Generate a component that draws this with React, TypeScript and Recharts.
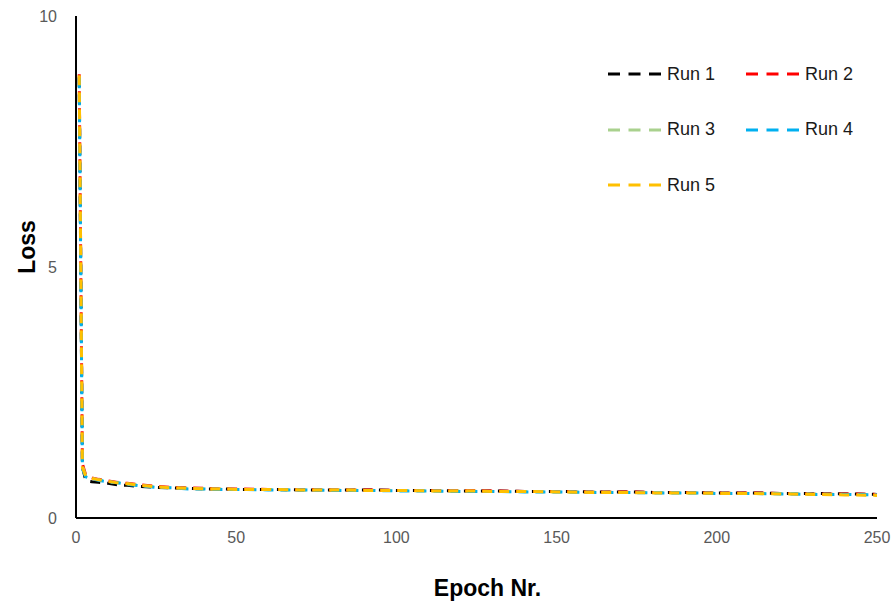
import React from "react";
import { LineChart, Line, XAxis, YAxis, Label } from "recharts";

// Training loss per epoch for five runs
const epochs = [1, 2, 3, 4, 5, 7, 10, 13, 16, 20, 25, 30, 35, 40, 45, 50, 60, 70, 80, 90, 100, 110, 120, 130, 140, 150, 160, 170, 180, 190, 200, 210, 220, 230, 240, 250];

const run1 = [8.78, 1.02, 0.76, 0.73, 0.72, 0.71, 0.69, 0.66, 0.65, 0.63, 0.61, 0.6, 0.59, 0.58, 0.58, 0.57, 0.57, 0.56, 0.56, 0.56, 0.55, 0.55, 0.54, 0.54, 0.53, 0.53, 0.52, 0.52, 0.51, 0.51, 0.5, 0.5, 0.49, 0.49, 0.48, 0.47];
const run2 = [8.84, 1.08, 0.86, 0.82, 0.8, 0.77, 0.74, 0.71, 0.69, 0.66, 0.63, 0.61, 0.6, 0.59, 0.58, 0.58, 0.57, 0.57, 0.56, 0.56, 0.55, 0.55, 0.55, 0.54, 0.53, 0.53, 0.52, 0.52, 0.51, 0.51, 0.5, 0.5, 0.49, 0.48, 0.48, 0.47];
const run3 = [8.8, 1.04, 0.84, 0.81, 0.79, 0.76, 0.73, 0.7, 0.68, 0.65, 0.62, 0.6, 0.59, 0.58, 0.58, 0.57, 0.57, 0.56, 0.56, 0.55, 0.55, 0.54, 0.54, 0.53, 0.53, 0.52, 0.52, 0.51, 0.51, 0.5, 0.5, 0.49, 0.49, 0.48, 0.47, 0.46];
const run4 = [8.76, 0.98, 0.82, 0.8, 0.78, 0.75, 0.72, 0.7, 0.67, 0.64, 0.61, 0.6, 0.58, 0.58, 0.57, 0.57, 0.56, 0.56, 0.55, 0.55, 0.54, 0.54, 0.53, 0.53, 0.52, 0.52, 0.51, 0.51, 0.5, 0.5, 0.49, 0.49, 0.48, 0.47, 0.47, 0.46];
const run5 = [8.82, 1.01, 0.84, 0.81, 0.79, 0.76, 0.73, 0.7, 0.68, 0.65, 0.62, 0.6, 0.59, 0.58, 0.58, 0.57, 0.57, 0.56, 0.56, 0.55, 0.55, 0.54, 0.54, 0.53, 0.53, 0.52, 0.51, 0.51, 0.5, 0.5, 0.49, 0.49, 0.48, 0.47, 0.46, 0.45];

const xTicks = [0, 50, 100, 150, 200, 250];
const yTicks = [0, 5, 10];

const seriesNames = ["Run 1", "Run 2", "Run 3", "Run 4", "Run 5"];
const seriesKeys = ["run1", "run2", "run3", "run4", "run5"];
const seriesColors = ["#000000", "#FF0000", "#A9D18E", "#00B0F0", "#FFC000"];

const allRuns = [run1, run2, run3, run4, run5];
const data = epochs.map((epoch, i) => {
  const row: Record<string, number> = { epoch };
  seriesKeys.forEach((k, s) => {
    row[k] = allRuns[s][i];
  });
  return row;
});

const FONT = "Liberation Sans, Arial, sans-serif";
const tickStyle = { fill: "#595959", fontSize: 16, fontFamily: FONT };
const titleStyle = { fontSize: 23, fontWeight: "bold", fill: "#000", fontFamily: FONT };

// Vertical axis title, a little above the middle of the plot
function LossTitle(props: any) {
  const vb = props.viewBox || { x: 0, y: 0, width: 0, height: 0 };
  const cx = vb.x + 11;
  const cy = vb.y + vb.height / 2 - 20;
  return (
    <text
      x={cx}
      y={cy}
      transform={`rotate(-90 ${cx} ${cy})`}
      textAnchor="middle"
      dominantBaseline="central"
      style={titleStyle}
    >
      Loss
    </text>
  );
}

// Horizontal axis title, slightly right of the plot's centre
function EpochTitle(props: any) {
  const vb = props.viewBox || { x: 0, y: 0, width: 0, height: 0 };
  const cx = vb.x + vb.width / 2 + 11;
  const cy = vb.y + vb.height - 16;
  return (
    <text x={cx} y={cy} textAnchor="middle" dominantBaseline="central" style={titleStyle}>
      Epoch Nr.
    </text>
  );
}

// Two-column legend placed in the upper right of the plot area
function LegendGrid() {
  return (
    <div style={{ position: "absolute", left: 608, top: 63, width: 280, height: 140, fontFamily: FONT }}>
      {seriesNames.map((name, i) => {
        const col = i % 2;
        const row = Math.floor(i / 2);
        return (
          <div
            key={name}
            style={{ position: "absolute", left: col * 138, top: row * 55.5, display: "flex", alignItems: "center", height: 22 }}
          >
            <svg width={53} height={6} style={{ display: "block" }}>
              <line x1={0} y1={3} x2={53} y2={3} stroke={seriesColors[i]} strokeWidth={3} strokeDasharray="12 8.5" />
            </svg>
            <span style={{ marginLeft: 6, fontSize: 18, color: "#1a1a1a" }}>{name}</span>
          </div>
        );
      })}
    </div>
  );
}

export default function App() {
  return (
    <div style={{ position: "absolute", left: 0, top: 0, width: 896, height: 604, background: "#fff" }}>
      <LineChart width={896} height={604} data={data} margin={{ top: 16, right: 19, bottom: 0, left: 16 }}>
        <XAxis
          dataKey="epoch"
          type="number"
          domain={[0, 250]}
          ticks={xTicks}
          tickLine={false}
          tickSize={0}
          tickMargin={14}
          axisLine={{ stroke: "#000", strokeWidth: 2 }}
          tick={tickStyle}
          height={86}
        >
          <Label content={<EpochTitle />} />
        </XAxis>
        <YAxis
          type="number"
          domain={[0, 10]}
          ticks={yTicks}
          tickLine={false}
          tickSize={0}
          tickMargin={19}
          axisLine={{ stroke: "#000", strokeWidth: 2 }}
          tick={tickStyle}
          width={60}
        >
          <Label content={<LossTitle />} />
        </YAxis>
        {seriesKeys.map((k, i) => (
          <Line
            key={k}
            type="linear"
            dataKey={k}
            name={seriesNames[i]}
            stroke={seriesColors[i]}
            strokeWidth={3}
            strokeDasharray="10 7"
            dot={false}
            isAnimationActive={false}
          />
        ))}
      </LineChart>
      <LegendGrid />
    </div>
  );
}
